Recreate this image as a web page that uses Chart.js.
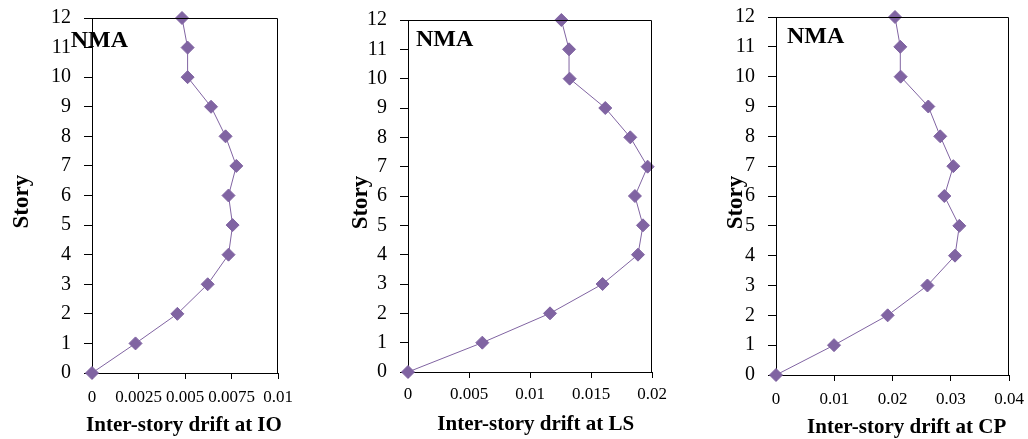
<!DOCTYPE html>
<html><head><meta charset="utf-8">
<script src="https://cdn.jsdelivr.net/npm/chart.js@4/dist/chart.umd.min.js"></script>
<style>
html,body{margin:0;padding:0;background:#fff;}
body{width:1028px;height:439px;position:relative;overflow:hidden;}
canvas{position:absolute;top:0;}
</style></head><body>
<canvas id="c1" width="300" height="439" style="left:0px"></canvas>
<canvas id="c2" width="360" height="439" style="left:320px"></canvas>
<canvas id="c3" width="338" height="439" style="left:690px"></canvas>
<script>
// ---- data ----
const stories = [0,1,2,3,4,5,6,7,8,9,10,11,12];
const driftIO = [0,0.00234,0.00459,0.00622,0.00734,0.00756,0.00734,0.00776,0.00718,0.0064,0.00514,0.00514,0.00484];
const driftLS = [0,0.00609,0.01164,0.01595,0.01885,0.01926,0.0186,0.01964,0.01822,0.01617,0.01325,0.0132,0.01257];
const driftCP = [0,0.00996,0.01917,0.026,0.03073,0.03147,0.0289,0.03044,0.0282,0.02615,0.0214,0.02134,0.02043];
const ioTicks = [0,0.0025,0.005,0.0075,0.01];
const lsTicks = [0,0.005,0.01,0.015,0.02];
const cpTicks = [0,0.01,0.02,0.03,0.04];
const ioTickLabels = ['0','0.0025','0.005','0.0075','0.01'];
const lsTickLabels = ['0','0.005','0.01','0.015','0.02'];
const cpTickLabels = ['0','0.01','0.02','0.03','0.04'];
const storyTicks = [0,1,2,3,4,5,6,7,8,9,10,11,12];
const xTitles = ['Inter-story drift at IO','Inter-story drift at LS','Inter-story drift at CP'];
const yTitle = 'Story';
const panelLabel = 'NMA';

const SERIF = "'Liberation Serif','Times New Roman',serif";
const PURPLE = '#8064A2';
Chart.defaults.font.family = SERIF;
Chart.defaults.color = '#000';

function makePanel(id, drift, ticks, tickLabels, xTitle, lay) {
  const ctxEl = document.getElementById(id);
  const H = ctxEl.height;
  const frame = {
    id: 'frame',
    afterDraw(chart) {
      const {ctx, chartArea: a} = chart;
      ctx.save();
      ctx.strokeStyle = '#000';
      ctx.lineWidth = 1;
      ctx.beginPath();
      const t = Math.round(a.top) + 0.5, r = Math.round(a.right) - 0.5;
      ctx.moveTo(Math.round(a.left), t);
      ctx.lineTo(r, t);
      ctx.lineTo(r, Math.round(a.bottom));
      ctx.stroke();
      // texts
      ctx.fillStyle = '#000';
      ctx.textBaseline = 'alphabetic';
      ctx.font = 'bold 24px ' + SERIF;
      ctx.textAlign = 'left';
      ctx.fillText(panelLabel, lay.nmaX, lay.nmaY);
      ctx.font = 'bold 21px ' + SERIF;
      ctx.textAlign = 'center';
      ctx.fillText(xTitle, lay.xtX, lay.xtY);
      ctx.save();
      ctx.translate(lay.ytX, lay.ytY);
      ctx.rotate(-Math.PI / 2);
      ctx.font = 'bold 23px ' + SERIF;
      ctx.textAlign = 'center';
      ctx.fillText(yTitle, 0, 0);
      ctx.restore();
      ctx.restore();
    }
  };
  return new Chart(ctxEl, {
    type: 'scatter',
    data: {
      datasets: [{
        data: stories.map((s, i) => ({x: drift[i], y: s})),
        showLine: true,
        borderColor: PURPLE,
        backgroundColor: PURPLE,
        borderWidth: 1,
        pointStyle: 'rectRot',
        pointRadius: 6.5,
        pointHoverRadius: 6.5,
        pointBorderWidth: 1,
        clip: false
      }]
    },
    options: {
      responsive: false,
      animation: false,
      events: [],
      layout: {padding: {top: lay.top, right: lay.right, left: 0, bottom: 0}},
      plugins: {legend: {display: false}, tooltip: {enabled: false}},
      scales: {
        x: {
          type: 'linear', position: 'bottom',
          min: ticks[0], max: ticks[ticks.length - 1],
          afterBuildTicks: s => { s.ticks = ticks.map(v => ({value: v})); },
          afterFit: s => { s.height = H - lay.bottom; s.paddingLeft = 0; s.paddingRight = 0; },
          grid: {drawOnChartArea: false, drawTicks: true, tickLength: 6, color: '#000', lineWidth: 1},
          border: {display: true, color: '#000', width: 1},
          ticks: {
            autoSkip: false, maxRotation: 0, minRotation: 0, padding: lay.xPad,
            color: '#000', font: {family: SERIF, size: 17},
            callback: (v, i) => tickLabels[i]
          }
        },
        y: {
          type: 'linear', min: 0, max: 12,
          afterBuildTicks: s => { s.ticks = storyTicks.map(v => ({value: v})); },
          afterFit: s => { s.width = lay.left; s.paddingTop = 0; s.paddingBottom = 0; },
          grid: {drawOnChartArea: false, drawTicks: true, tickLength: 8, color: '#000', lineWidth: 1},
          border: {display: true, color: '#000', width: 1},
          ticks: {padding: 13, color: '#000', font: {family: SERIF, size: 20}}
        }
      }
    },
    plugins: [frame]
  });
}

makePanel('c1', driftIO, ioTicks, ioTickLabels, xTitles[0],
  {left: 92, right: 22, top: 18, bottom: 373, xPad: 8, nmaX: 70.7, nmaY: 46.7, xtX: 184, xtY: 431, ytX: 28.3, ytY: 201.7});
makePanel('c2', driftLS, lsTicks, lsTickLabels, xTitles[1],
  {left: 88, right: 28, top: 20, bottom: 372, xPad: 6, nmaX: 96, nmaY: 46, xtX: 215.8, xtY: 430, ytX: 47, ytY: 202.5});
makePanel('c3', driftCP, cpTicks, cpTickLabels, xTitles[2],
  {left: 86, right: 19, top: 17, bottom: 375, xPad: 8, nmaX: 97, nmaY: 43, xtX: 216.7, xtY: 433, ytX: 51.7, ytY: 202.5});
</script>
</body></html>
